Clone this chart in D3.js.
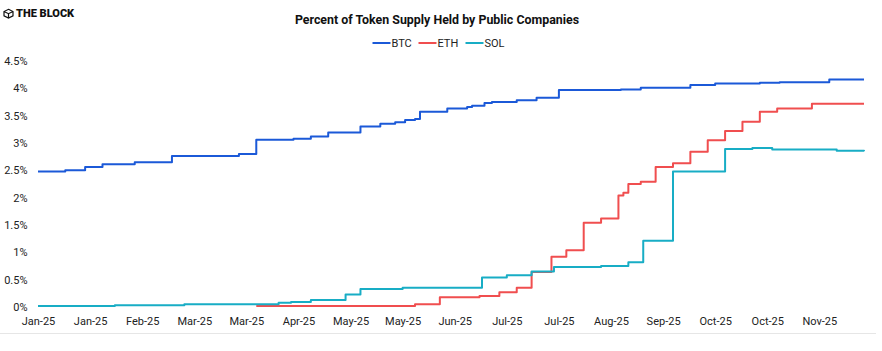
<!DOCTYPE html>
<html>
<head>
<meta charset="utf-8">
<script src="https://cdn.jsdelivr.net/npm/d3@7"></script>
<style>
  body { margin: 0; background: #fff; font-family: Roboto, "Noto Sans", sans-serif; }
</style>
</head>
<body>
<div id="chart"></div>
<script>
// values (percent of supply)
const btcDates = ["2025-01-01", "2025-01-12", "2025-01-20", "2025-01-27", "2025-02-09", "2025-02-24", "2025-03-23", "2025-03-30", "2025-04-14", "2025-04-21", "2025-04-28", "2025-05-11", "2025-05-19", "2025-05-25", "2025-05-29", "2025-06-02", "2025-06-04", "2025-06-15", "2025-06-23", "2025-06-25", "2025-06-30", "2025-07-03", "2025-07-13", "2025-07-21", "2025-07-30", "2025-08-24", "2025-09-01", "2025-09-21", "2025-10-01", "2025-10-19", "2025-10-27", "2025-11-16", "2025-11-30"];
const btcValues = [2.48, 2.50, 2.56, 2.61, 2.65, 2.76, 2.80, 3.06, 3.08, 3.12, 3.19, 3.30, 3.35, 3.38, 3.42, 3.44, 3.57, 3.63, 3.66, 3.68, 3.73, 3.75, 3.78, 3.83, 3.97, 3.98, 4.01, 4.06, 4.09, 4.10, 4.11, 4.16, 4.16];

const ethDates = ["2025-03-30", "2025-06-02", "2025-06-12", "2025-06-28", "2025-07-06", "2025-07-13", "2025-07-19", "2025-07-27", "2025-08-02", "2025-08-09", "2025-08-16", "2025-08-23", "2025-08-25", "2025-08-27", "2025-09-01", "2025-09-07", "2025-09-14", "2025-09-21", "2025-09-28", "2025-10-05", "2025-10-12", "2025-10-19", "2025-10-26", "2025-11-09", "2025-11-30"];
const ethValues = [0.02, 0.05, 0.18, 0.20, 0.27, 0.35, 0.64, 0.92, 1.04, 1.54, 1.62, 2.04, 2.09, 2.25, 2.29, 2.56, 2.63, 2.84, 3.05, 3.22, 3.39, 3.57, 3.63, 3.72, 3.72];

const solDates = ["2025-01-01", "2025-02-01", "2025-03-01", "2025-04-08", "2025-04-13", "2025-04-21", "2025-05-05", "2025-05-11", "2025-05-28", "2025-06-29", "2025-07-09", "2025-07-19", "2025-07-28", "2025-08-16", "2025-08-27", "2025-09-02", "2025-09-14", "2025-10-05", "2025-10-16", "2025-10-24", "2025-11-19", "2025-11-30"];
const solValues = [0.02, 0.03, 0.05, 0.08, 0.09, 0.13, 0.23, 0.33, 0.35, 0.54, 0.58, 0.65, 0.73, 0.75, 0.82, 1.21, 2.48, 2.89, 2.91, 2.88, 2.86, 2.85];

const tickDates = ["2025-01-01", "2025-01-22", "2025-02-12", "2025-03-05", "2025-03-26", "2025-04-16", "2025-05-07", "2025-05-28", "2025-06-18", "2025-07-09", "2025-07-30", "2025-08-20", "2025-09-10", "2025-10-01", "2025-10-22", "2025-11-12"];
const yTicks = [0, 0.5, 1, 1.5, 2, 2.5, 3, 3.5, 4, 4.5];

const seriesNames = ["BTC", "ETH", "SOL"];
const seriesColors = ["#1b59d8", "#f04e4f", "#18adc5"];

const width = 882;
const height = 351;
const margin = { top: 61, right: 18, bottom: 44, left: 38 };

const parse = d3.timeParse("%Y-%m-%d");
const series = [
  { name: "BTC", pts: btcDates.map((d, i) => [parse(d), btcValues[i]]) },
  { name: "ETH", pts: ethDates.map((d, i) => [parse(d), ethValues[i]]) },
  { name: "SOL", pts: solDates.map((d, i) => [parse(d), solValues[i]]) },
];
const color = d3.scaleOrdinal().domain(seriesNames).range(seriesColors);

const svg = d3
  .select("#chart")
  .append("svg")
  .attr("width", width)
  .attr("height", height);

const x = d3
  .scaleTime()
  .domain([parse("2025-01-01"), parse("2025-11-30")])
  .range([margin.left, width - margin.right]);

const y = d3
  .scaleLinear()
  .domain([0, 4.5])
  .range([height - margin.bottom, margin.top]);

// logo
const logo = svg.append("g").attr("transform", "translate(4,9.3)");
logo.append("path")
  .attr("d", "M4.5,0 L9,2.2 L9,6.6 L4.5,8.8 L0,6.6 L0,2.2 Z M0,2.2 L4.5,4.4 L9,2.2 M4.5,4.4 L4.5,8.8")
  .attr("fill", "none")
  .attr("stroke", "#111")
  .attr("stroke-width", 1.2);
logo.append("text")
  .attr("x", 12)
  .attr("y", 7.9)
  .style("font-size", "11px")
  .style("font-weight", "900")
  .style("fill", "#111")
  .text("THE BLOCK");

// title
svg.append("text")
  .attr("x", 437)
  .attr("y", 24)
  .attr("text-anchor", "middle")
  .style("font-size", "12.4px")
  .style("font-weight", "bold")
  .style("fill", "#111")
  .text("Percent of Token Supply Held by Public Companies");

// legend
const legendX = [372.5, 418.5, 465.5];
const legend = svg.append("g").attr("transform", "translate(0,43)");
seriesNames.forEach((name, i) => {
  legend.append("line")
    .attr("x1", legendX[i]).attr("x2", legendX[i] + 18)
    .attr("y1", 0).attr("y2", 0)
    .attr("stroke", color(name))
    .attr("stroke-width", 2);
  legend.append("text")
    .attr("x", legendX[i] + 19)
    .attr("y", 4)
    .style("font-size", "11px")
    .style("fill", "#222")
    .text(name);
});

// axes
const yAxis = svg.append("g")
  .attr("transform", `translate(${margin.left},0)`)
  .call(d3.axisLeft(y).tickValues(yTicks).tickFormat((d) => d + "%").tickSize(0).tickPadding(10.5));
yAxis.select(".domain").remove();

const xAxis = svg.append("g")
  .attr("transform", `translate(0,${height - margin.bottom})`)
  .call(d3.axisBottom(x).tickValues(tickDates.map(parse)).tickFormat(d3.timeFormat("%b-%y")).tickSize(0).tickPadding(10));
xAxis.select(".domain").remove();

svg.selectAll(".tick text")
  .style("font-family", "Roboto, sans-serif")
  .style("font-size", "11px")
  .style("fill", "#222");

// bottom separator
svg.append("line")
  .attr("x1", 0).attr("x2", 876)
  .attr("y1", 333.5).attr("y2", 333.5)
  .attr("stroke", "#e6e6e6")
  .attr("stroke-width", 1);

// lines
const line = d3.line()
  .x((d) => x(d[0]))
  .y((d) => y(d[1]))
  .curve(d3.curveStepAfter);

svg.selectAll(".series")
  .data(series)
  .enter()
  .append("path")
  .attr("class", "series")
  .attr("d", (d) => line(d.pts))
  .attr("fill", "none")
  .attr("stroke", (d) => color(d.name))
  .attr("stroke-width", 2)
  .attr("stroke-linejoin", "round");
</script>
</body>
</html>
